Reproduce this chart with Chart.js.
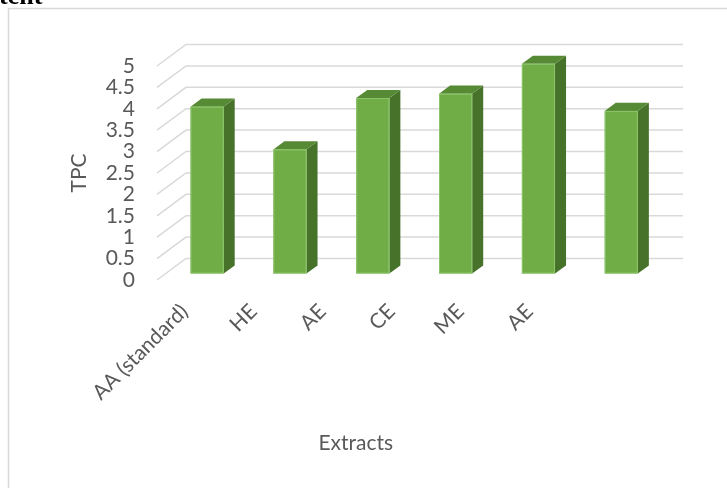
<!DOCTYPE html>
<html>
<head>
<meta charset="utf-8">
<script src="https://cdn.jsdelivr.net/npm/chart.js@4"></script>
<style>
  html, body { margin: 0; padding: 0; background: #ffffff; }
  #wrap { position: relative; width: 727px; height: 488px; overflow: hidden; }
  canvas { display: block; }
</style>
</head>
<body>
<div id="wrap"><canvas id="tpcChart" width="727" height="488"></canvas></div>
<script>
// Total phenolic content of the extracts
const categories = ['AA (standard)', 'HE', 'AE', 'CE', 'ME', 'AE'];
const tpcValues = [3.9, 2.9, 4.1, 4.2, 4.9, 3.8];
const yMin = 0;
const yMax = 5;
const yStep = 0.5;
const yTitle = 'TPC';
const xTitle = 'Extracts';
const headingFragment = 'tent';

// 3-D look: the depth vector of the plot box and where the bars sit inside it
const DEPTH = { x: 29, y: -21.5 };
const BAR_FRONT = 0.3;   // fraction of the depth in front of each bar
const BAR_DEPTH = 0.38;  // fraction of the depth a bar occupies
const COLORS = {
  front: '#70ad47',
  frontEdge: '#8cc56a',
  top: '#578a35',
  side: '#46722a',
  grid: '#d9d9d9',
  text: '#595959',
  frame: '#d9d9d9'
};
const FONT = 'Lato, "Open Sans", sans-serif';
const FONT_SIZE = 21;

const box3d = {
  id: 'box3d',
  beforeDraw(chart) {
    const ctx = chart.ctx;
    ctx.save();
    // frame of the chart object
    ctx.strokeStyle = COLORS.frame;
    ctx.lineWidth = 1.5;
    ctx.beginPath();
    ctx.moveTo(8.5, chart.height);
    ctx.lineTo(8.5, 8.5);
    ctx.lineTo(chart.width, 8.5);
    ctx.stroke();
    // tail of the heading line above the chart
    ctx.fillStyle = '#000000';
    ctx.font = 'bold 26px "Liberation Serif", "DejaVu Serif", serif';
    ctx.textBaseline = 'alphabetic';
    ctx.textAlign = 'left';
    ctx.fillText(headingFragment, -1, 4);
    ctx.restore();
  },
  beforeDatasetsDraw(chart) {
    const { ctx, chartArea } = chart;
    const yScale = chart.scales.y;
    ctx.save();
    ctx.strokeStyle = COLORS.grid;
    ctx.lineWidth = 1.5;
    yScale.ticks.forEach(t => {
      const py = yScale.getPixelForValue(t.value);
      ctx.beginPath();
      ctx.moveTo(chartArea.left, py);
      ctx.lineTo(chartArea.left + DEPTH.x, py + DEPTH.y);
      ctx.lineTo(chartArea.right + DEPTH.x, py + DEPTH.y);
      ctx.stroke();
    });
    ctx.restore();
  },
  afterDatasetsDraw(chart) {
    const ctx = chart.ctx;
    const meta = chart.getDatasetMeta(0);
    const ox = BAR_FRONT * DEPTH.x, oy = BAR_FRONT * DEPTH.y;
    const dx = BAR_DEPTH * DEPTH.x, dy = BAR_DEPTH * DEPTH.y;
    ctx.save();
    meta.data.forEach(bar => {
      const { x, y, base, width } = bar.getProps(['x', 'y', 'base', 'width'], true);
      const l = x - width / 2 + ox, r = l + width;
      const t = y + oy, b = base + oy;
      // side face
      ctx.fillStyle = COLORS.side;
      ctx.beginPath();
      ctx.moveTo(r, t); ctx.lineTo(r + dx, t + dy);
      ctx.lineTo(r + dx, b + dy); ctx.lineTo(r, b);
      ctx.closePath(); ctx.fill();
      // top face
      ctx.fillStyle = COLORS.top;
      ctx.beginPath();
      ctx.moveTo(l, t); ctx.lineTo(l + dx, t + dy);
      ctx.lineTo(r + dx, t + dy); ctx.lineTo(r, t);
      ctx.closePath(); ctx.fill();
      // front face
      ctx.fillStyle = COLORS.front;
      ctx.fillRect(l, t, width, b - t);
      ctx.strokeStyle = COLORS.frontEdge;
      ctx.lineWidth = 1;
      ctx.strokeRect(l + 0.5, t + 0.5, width - 1, b - t - 1);
    });
    ctx.restore();
  },
  afterDraw(chart) {
    const { ctx, chartArea } = chart;
    const xScale = chart.scales.x;
    ctx.save();
    ctx.fillStyle = COLORS.text;
    ctx.font = FONT_SIZE + 'px ' + FONT;
    // slanted category labels along the floor edge
    const first = xScale.getPixelForValue(0);
    categories.forEach((label, i) => {
      const px = xScale.getPixelForValue(i);
      const ax = first - 14 + (px - first) * 0.833;
      const ay = chartArea.bottom + 28;
      ctx.save();
      ctx.translate(ax, ay);
      ctx.rotate(-Math.PI / 4);
      ctx.textAlign = 'right';
      ctx.textBaseline = 'middle';
      ctx.fillText(label, 0, 0);
      ctx.restore();
    });
    // category axis title
    ctx.textAlign = 'center';
    ctx.textBaseline = 'alphabetic';
    ctx.fillText(xTitle, chartArea.left + (chartArea.right - chartArea.left) * 0.4, chartArea.bottom + 170);
    ctx.restore();
  }
};

new Chart(document.getElementById('tpcChart'), {
  type: 'bar',
  data: {
    labels: categories,
    datasets: [{
      label: yTitle,
      data: tpcValues,
      backgroundColor: 'rgba(0,0,0,0)',
      borderWidth: 0,
      barPercentage: 0.4,
      categoryPercentage: 1.0
    }]
  },
  options: {
    responsive: false,
    animation: false,
    devicePixelRatio: 1,
    layout: { padding: { left: 60, right: 73, top: 66, bottom: 208 } },
    plugins: { legend: { display: false }, tooltip: { enabled: false } },
    scales: {
      x: { display: false },
      y: {
        min: yMin,
        max: yMax,
        grid: { display: false, drawTicks: false },
        border: { display: false },
        ticks: {
          stepSize: yStep,
          autoSkip: false,
          padding: 22,
          color: COLORS.text,
          font: { family: FONT, size: FONT_SIZE },
          callback: v => String(Number(v.toFixed(2)))
        },
        title: {
          display: true,
          text: yTitle,
          color: COLORS.text,
          font: { family: FONT, size: FONT_SIZE },
          padding: { top: 7, bottom: 0 }
        },
        afterFit(scale) { scale.width = 97; }
      }
    }
  },
  plugins: [box3d]
});
</script>
</body>
</html>
